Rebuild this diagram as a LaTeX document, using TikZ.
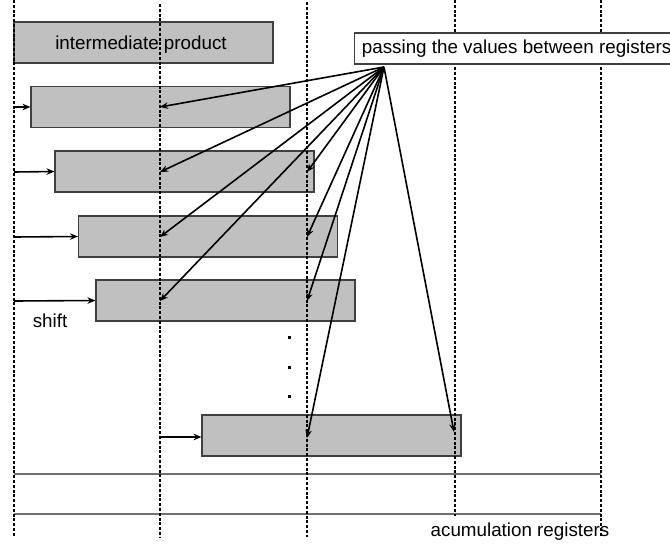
\documentclass[tikz,border=0pt]{standalone}
\usepackage{fontspec}
\setmainfont{Liberation Sans}
\usetikzlibrary{arrows.meta}
\definecolor{boxgray}{HTML}{C0C0C0}
\definecolor{edgegray}{HTML}{404040}
\definecolor{rowgray}{HTML}{707070}
\tikzset{
  regbox/.style={draw=edgegray, line width=1.1pt, fill=boxgray, minimum width=259pt, minimum height=41pt, inner sep=0pt},
  vdash/.style={draw=black, line width=1.4pt, dash pattern=on 3pt off 1.8pt},
  hline/.style={draw=rowgray, line width=1.1pt},
  conn/.style={draw=black, line width=1.6pt, -{Stealth[length=8pt,width=6.5pt]}},
  lbl/.style={font=\fontsize{18.8}{22}\selectfont, inner sep=0pt},
}
\begin{document}
\begin{tikzpicture}[x=1pt,y=-1pt]
\useasboundingbox (0,0) rectangle (670,544);
% register boxes
\node[regbox] (ip) at (143.5,42.5) {};
\node[regbox] (r1) at (160.5,107) {};
\node[regbox] (r2) at (184.5,171.5) {};
\node[regbox] (r3) at (208,236.5) {};
\node[regbox] (r4) at (225.5,300.5) {};
\node[regbox] (r5) at (331.5,435.5) {};
% accumulation register rows
\draw[hline] (14,474) -- (601,474);
\draw[hline] (14,514) -- (601,514);
% dashed columns
\draw[vdash] (14,0) -- (14,536);
\draw[vdash] (160,4) -- (160,537);
\draw[vdash] (307,2) -- (307,537);
\draw[vdash] (455,0) -- (455,516);
\draw[vdash] (601,0) -- (601,537);
% texts
\node[lbl] (iptext) at (141,45) {intermediate product};
\node[lbl, draw=edgegray, line width=1.1pt, fill=white, minimum width=318pt, minimum height=31pt, anchor=west] (pass) at (354,48.5) {\hspace{6pt}passing the values between registers\hfill};
\node[lbl] (shiftlbl) at (50,321) {shift};
\node[lbl] (acclbl) at (520,532) {acumulation registers};
% dots
\fill (288,336) rectangle ++(2.6,2.6);
\fill (288,366) rectangle ++(2.6,2.6);
\fill (288,395) rectangle ++(2.6,2.6);
% source and targets
\coordinate (src) at (384,67);
\coordinate (t1a) at (160,107);
\coordinate (t2a) at (160,172);
\coordinate (t2b) at (307,172);
\coordinate (t3a) at (160,237);
\coordinate (t3b) at (307,237);
\coordinate (t4a) at (160,301);
\coordinate (t4b) at (307,301);
\coordinate (t5a) at (307,438);
\coordinate (t5b) at (454,432);
\foreach \t in {t1a,t2a,t2b,t3a,t3b,t4a,t4b,t5a,t5b}
  \draw[conn] (src) -- (\t);
% shift arrows
\coordinate (s1) at (14,107);
\coordinate (s2) at (14,172);
\coordinate (s3) at (14,237);
\coordinate (s4) at (14,301);
\coordinate (s5) at (160,437);
\draw[conn] (s1) -- (r1.west);
\draw[conn] (s2) -- (r2.west);
\draw[conn] (s3) -- (r3.west);
\draw[conn] (s4) -- (r4.west);
\draw[conn] (s5) -- (r5.west |- s5);
\end{tikzpicture}
\end{document}
